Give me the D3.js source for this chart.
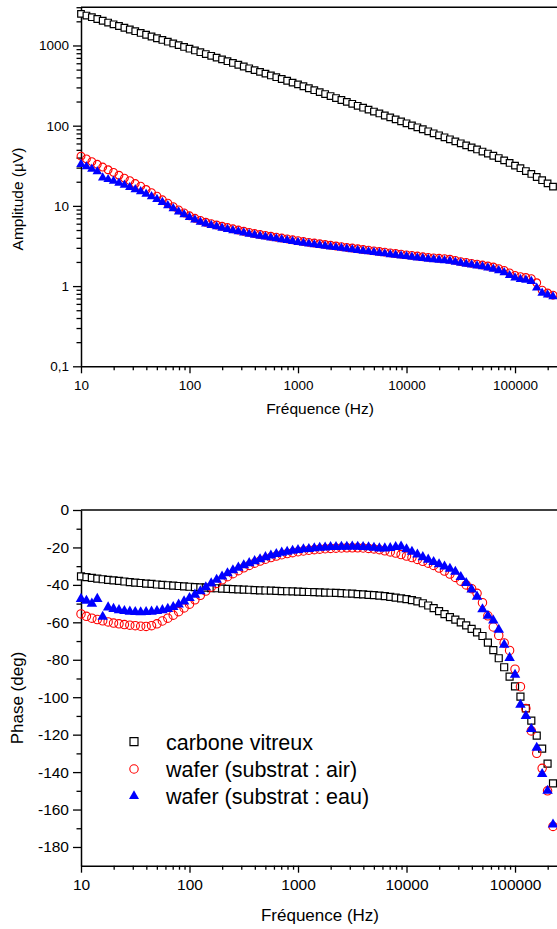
<!DOCTYPE html>
<html><head><meta charset="utf-8">
<script src="https://cdn.jsdelivr.net/npm/d3@7"></script>
<style>body{margin:0;background:#fff}svg{display:block}</style>
</head><body>
<script>
// ---------------- DATA ----------------
const freq = [
  10, 11.22, 12.59, 14.13, 15.85, 17.78, 19.95, 22.39, 25.12, 28.18, 31.62, 35.48, 39.81, 44.67, 50.12, 56.23, 63.10, 70.79, 79.43, 89.13,
  100, 112.2, 125.9, 141.3, 158.5, 177.8, 199.5, 223.9, 251.2, 281.8, 316.2, 354.8, 398.1, 446.7, 501.2, 562.3, 631.0, 707.9, 794.3, 891.3,
  1000, 1122, 1259, 1413, 1585, 1778, 1995, 2239, 2512, 2818, 3162, 3548, 3981, 4467, 5012, 5623, 6310, 7079, 7943, 8913,
  10000, 11220, 12590, 14130, 15850, 17780, 19950, 22390, 25120, 28180, 31620, 35480, 39810, 44670, 50120, 56230, 63100, 70790, 79430, 89130,
  100000, 112200, 125900, 141300, 158500, 177800, 199500, 223900
];
const ampCarbone = [
  2480, 2360, 2250, 2138, 2032, 1932, 1837, 1750, 1663, 1581,
  1507, 1432, 1361, 1294, 1230, 1172, 1114, 1059, 1009, 959,
  912, 867, 824, 782, 743, 706, 671, 637, 605, 575,
  547, 519, 493, 469, 446, 423, 402, 382, 363, 344,
  327, 310, 293, 277, 262, 248, 234, 221, 209, 198,
  187.5, 177, 167.5, 158.5, 150, 142, 134, 127, 120, 113,
  107, 101, 95.5, 90.2, 85.1, 80.4, 75.9, 71.6, 67.6, 63.8,
  60.3, 56.8, 53.6, 50.5, 47.6, 44.9, 42.2, 39.5, 36.9, 34.3,
  31.8, 29.5, 27.2, 25.0, 22.9, 20.9, 19.1, 17.4
];
const ampAir = [
  41.7, 38.5, 35.6, 33.0, 30.5, 28.2, 26.1, 24.1, 22.2, 20.6,
  19.0, 17.6, 16.0, 14.6, 13.2, 11.9, 10.8, 9.77, 8.91, 8.17,
  7.52, 7.00, 6.58, 6.25, 6.00, 5.78, 5.57, 5.37, 5.18, 5.00,
  4.83, 4.67, 4.52, 4.40, 4.29, 4.18, 4.07, 3.97, 3.87, 3.78,
  3.68, 3.59, 3.51, 3.44, 3.37, 3.30, 3.23, 3.16, 3.10, 3.03,
  2.98, 2.92, 2.86, 2.81, 2.75, 2.70, 2.65, 2.59, 2.55, 2.50,
  2.45, 2.41, 2.37, 2.32, 2.28, 2.25, 2.22, 2.20, 2.16, 2.09,
  2.02, 1.97, 1.92, 1.88, 1.83, 1.78, 1.73, 1.65, 1.57, 1.46,
  1.36, 1.31, 1.28, 1.24, 1.10, 0.89, 0.82, 0.77
];
const ampEau = [
  33.1, 30.9, 28.8, 26.9, 22.4, 21.4, 20.4, 19.3, 18.2, 17.1,
  16.0, 15.1, 14.1, 13.1, 12.1, 11.1, 10.1, 9.25, 8.47, 7.80,
  7.21, 6.71, 6.31, 6.00, 5.75, 5.52, 5.31, 5.12, 4.94, 4.78,
  4.61, 4.47, 4.34, 4.22, 4.11, 4.01, 3.91, 3.81, 3.72, 3.62,
  3.53, 3.45, 3.37, 3.30, 3.24, 3.17, 3.10, 3.04, 2.98, 2.92,
  2.86, 2.80, 2.74, 2.69, 2.64, 2.58, 2.54, 2.48, 2.44, 2.39,
  2.35, 2.31, 2.26, 2.22, 2.18, 2.15, 2.12, 2.09, 2.05, 2.00,
  1.94, 1.88, 1.84, 1.79, 1.75, 1.69, 1.63, 1.56, 1.48, 1.36,
  1.27, 1.22, 1.19, 1.15, 0.95, 0.82, 0.78, 0.74
];
const phaseCarbone = [
  -35.5, -35.9, -36.3, -36.7, -37.0, -37.3, -37.6, -37.9, -38.2, -38.5,
  -38.8, -39.0, -39.3, -39.5, -39.8, -40.0, -40.2, -40.4, -40.6, -40.8,
  -41.0, -41.2, -41.3, -41.5, -41.7, -41.8, -42.0, -42.1, -42.3, -42.4,
  -42.5, -42.6, -42.8, -42.9, -43.0, -43.1, -43.2, -43.3, -43.4, -43.5,
  -43.6, -43.7, -43.8, -43.9, -44.0, -44.1, -44.2, -44.3, -44.4, -44.6,
  -44.7, -44.9, -45.1, -45.3, -45.5, -45.7, -46.0, -46.4, -46.8, -47.2,
  -47.6, -48.1, -48.8, -49.8, -51.0, -52.4, -54.0, -55.6, -57.2, -58.6,
  -60.0, -61.6, -63.5, -65.4, -67.3, -70.8, -74.8, -79.2, -84.0, -89.0,
  -94.2, -99.7, -106.0, -112.5, -120.5, -127.5, -135.5, -146.0
];
const phaseAir = [
  -55.5, -56.8, -57.8, -58.5, -59.2, -59.8, -60.4, -60.8, -61.2, -61.5,
  -61.8, -62.1, -62.2, -61.8, -60.8, -59.3, -57.8, -56.2, -54.3, -52.3,
  -50.3, -48.0, -45.6, -43.3, -41.2, -39.2, -37.3, -35.6, -34.0, -32.4,
  -30.9, -29.6, -28.4, -27.3, -26.3, -25.4, -24.6, -23.9, -23.3, -22.8,
  -22.3, -21.9, -21.5, -21.2, -20.9, -20.7, -20.5, -20.4, -20.3, -20.2,
  -20.2, -20.2, -20.3, -20.5, -20.8, -21.2, -21.8, -22.4, -23.0, -23.8,
  -24.6, -25.4, -26.4, -27.4, -28.4, -29.6, -31.0, -32.6, -34.2, -36.0,
  -38.0, -40.0, -42.0, -44.5, -49.5, -56.5, -62.5, -67.0, -71.0, -75.0,
  -85.0, -94.4, -106.0, -118.0, -130.0, -138.0, -150.0, -169.0
];
const phaseEau = [
  -47.5, -48.5, -50.0, -47.5, -57.0, -52.0, -52.8, -53.5, -54.0, -54.3,
  -54.5, -54.6, -54.5, -54.3, -54.0, -53.5, -52.8, -51.8, -50.5, -48.8,
  -47.0, -45.2, -43.4, -41.3, -39.2, -37.3, -35.5, -33.8, -32.2, -30.8,
  -29.5, -28.4, -27.3, -26.3, -25.2, -24.3, -23.5, -22.8, -22.3, -21.8,
  -21.4, -21.0, -20.8, -20.4, -20.2, -20.0, -19.8, -19.8, -19.6, -19.6,
  -19.5, -19.6, -19.8, -19.9, -20.2, -20.5, -20.5, -20.3, -19.8, -19.5,
  -21.0, -22.3, -23.8, -25.2, -26.5, -27.8, -29.0, -30.2, -31.4, -33.0,
  -35.8, -39.0, -42.5, -46.3, -53.0, -56.5, -59.0, -64.0, -72.0, -79.0,
  -88.0, -104.0, -110.0, -117.0, -127.0, -141.0, -150.0, -168.0
];
const seriesNames = ["carbone vitreux", "wafer (substrat : air)", "wafer (substrat : eau)"];
const freqTicks = [10, 100, 1000, 10000, 100000];
const freqTickLabels = ["10", "100", "1000", "10000", "100000"];
const ampTicks = [0.1, 1, 10, 100, 1000];
const ampTickLabels = ["0,1", "1", "10", "100", "1000"];
const phaseTicks = [0, -20, -40, -60, -80, -100, -120, -140, -160, -180];
const phaseTickLabels = ["0", "-20", "-40", "-60", "-80", "-100", "-120", "-140", "-160", "-180"];
const phaseMinorTicks = [-10, -30, -50, -70, -90, -110, -130, -150, -170];
const xTitle = "Fréquence (Hz)";
const ampTitle = "Amplitude (µV)";
const phaseTitle = "Phase (deg)";

// ---------------- DRAW ----------------
const W = 557, H = 929;
const font = "'Liberation Sans', Arial, Helvetica, sans-serif";
const svg = d3.select("body").append("svg").attr("width", W).attr("height", H)
  .attr("font-family", font);

const xL = 81, xR = 558.2;
const x = d3.scaleLog().domain([10, 250000]).range([xL, xR]);
const yA = d3.scaleLog().domain([0.1, 3000]).range([366.3, 7.2]);
const yP = d3.scaleLinear().domain([-190, 0]).range([865.7, 510]);

function logMinors(lo, hi) {
  const out = [];
  for (let d = lo; d < hi; d *= 10) for (let m = 2; m <= 9; m++) { const v = d * m; if (v <= hi * 1.0001) out.push(v); }
  return out;
}
const xMinor = logMinors(10, 250000);
const aMinor = logMinors(0.1, 3000);

const colors = { sq: "#000", ci: "#ff0000", tr: "#0000ff" };
const sym = {
  sq: s => d3.symbol().type(d3.symbolSquare).size(s * s)(),
  ci: r => d3.symbol().type(d3.symbolCircle).size(Math.PI * r * r)(),
  tr: s => d3.symbol().type(d3.symbolTriangle).size(s * s * Math.sqrt(3) / 4)()
};

function styleAxis(g, fs) {
  g.attr("font-family", font).attr("font-size", fs);
  g.select(".domain").attr("stroke", "#000").attr("stroke-width", 1.5);
  g.selectAll(".tick line").attr("stroke", "#000").attr("stroke-width", 1.3);
  g.selectAll(".tick text").attr("fill", "#000");
}

function panel(c) {
  const g = svg.append("g");
  g.append("line").attr("x1", xL).attr("x2", xR).attr("y1", c.top).attr("y2", c.top)
    .attr("stroke", "#000").attr("stroke-width", 1.5);
  const xm = g.append("g").attr("transform", `translate(0,${c.bottom})`)
    .call(d3.axisBottom(x).tickValues(xMinor).tickFormat("").tickSize(4).tickSizeOuter(0));
  xm.select(".domain").remove();
  styleAxis(xm, c.tickFont);
  const xa = g.append("g").attr("transform", `translate(0,${c.bottom})`)
    .call(d3.axisBottom(x).tickValues(freqTicks).tickFormat((d, i) => freqTickLabels[i]).tickSize(7).tickSizeOuter(0));
  styleAxis(xa, c.tickFont);
  xa.selectAll(".tick text").attr("y", c.xLabelBase - c.bottom).attr("dy", null);
  const ym = g.append("g").attr("transform", `translate(${xL},0)`)
    .call(d3.axisLeft(c.y).tickValues(c.yMinor).tickFormat("").tickSize(4.5).tickSizeOuter(0));
  ym.select(".domain").remove();
  styleAxis(ym, c.tickFont);
  const ya = g.append("g").attr("transform", `translate(${xL},0)`)
    .call(d3.axisLeft(c.y).tickValues(c.yTicks).tickFormat((d, i) => c.yLabels[i]).tickSize(8).tickPadding(4).tickSizeOuter(0));
  styleAxis(ya, c.tickFont);
  g.append("text").attr("x", 320).attr("y", c.xTitleBase).attr("text-anchor", "middle")
    .attr("font-size", c.titleFont).text(xTitle);
  g.append("text").attr("transform", `translate(23,${c.yTitleCenter}) rotate(-90)`)
    .attr("text-anchor", "middle").attr("font-size", c.titleFont).text(c.yTitle);
  const ser = c.series;
  const m = g.append("g");
  m.selectAll("path.sq").data(freq).join("path").attr("class", "sq")
    .attr("transform", (d, i) => `translate(${x(d)},${c.y(ser[0][i])})`)
    .attr("d", sym.sq(c.sq)).attr("fill", "#fff").attr("stroke", colors.sq).attr("stroke-width", 1.2);
  m.selectAll("path.ci").data(freq).join("path").attr("class", "ci")
    .attr("transform", (d, i) => `translate(${x(d)},${c.y(ser[1][i])})`)
    .attr("d", sym.ci(c.ci)).attr("fill", "none").attr("stroke", colors.ci).attr("stroke-width", 1.1);
  m.selectAll("path.tr").data(freq).join("path").attr("class", "tr")
    .attr("transform", (d, i) => `translate(${x(d)},${c.y(ser[2][i])})`)
    .attr("d", sym.tr(c.tr)).attr("fill", colors.tr).attr("stroke", "none");
  return g;
}

panel({
  y: yA, yTicks: ampTicks, yLabels: ampTickLabels, yMinor: aMinor,
  top: 7.2, bottom: 366.3, tickFont: 13.5, titleFont: 15.5,
  yTitle: ampTitle, yTitleCenter: 199, xLabelBase: 390, xTitleBase: 414,
  series: [ampCarbone, ampAir, ampEau], sq: 6.6, ci: 3.9, tr: 9.5
});
panel({
  y: yP, yTicks: phaseTicks, yLabels: phaseTickLabels, yMinor: phaseMinorTicks,
  top: 510, bottom: 865.7, tickFont: 15.5, titleFont: 17,
  yTitle: phaseTitle, yTitleCenter: 698, xLabelBase: 890.5, xTitleBase: 921,
  series: [phaseCarbone, phaseAir, phaseEau], sq: 7, ci: 4.2, tr: 10.5
});

const legY = [741.7, 769, 796];
const lg = svg.append("g");
lg.append("path").attr("transform", `translate(134,${legY[0]})`).attr("d", sym.sq(8))
  .attr("fill", "#fff").attr("stroke", colors.sq).attr("stroke-width", 1.2);
lg.append("path").attr("transform", `translate(134,${legY[1]})`).attr("d", sym.ci(4.2))
  .attr("fill", "none").attr("stroke", colors.ci).attr("stroke-width", 1.1);
lg.append("path").attr("transform", `translate(134,${legY[2]})`).attr("d", sym.tr(10))
  .attr("fill", colors.tr);
lg.selectAll("text").data(seriesNames).join("text")
  .attr("x", 166).attr("y", (d, i) => legY[i] + 8)
  .attr("font-size", 21.5).attr("fill", "#000").text(d => d);
</script>
</body></html>
